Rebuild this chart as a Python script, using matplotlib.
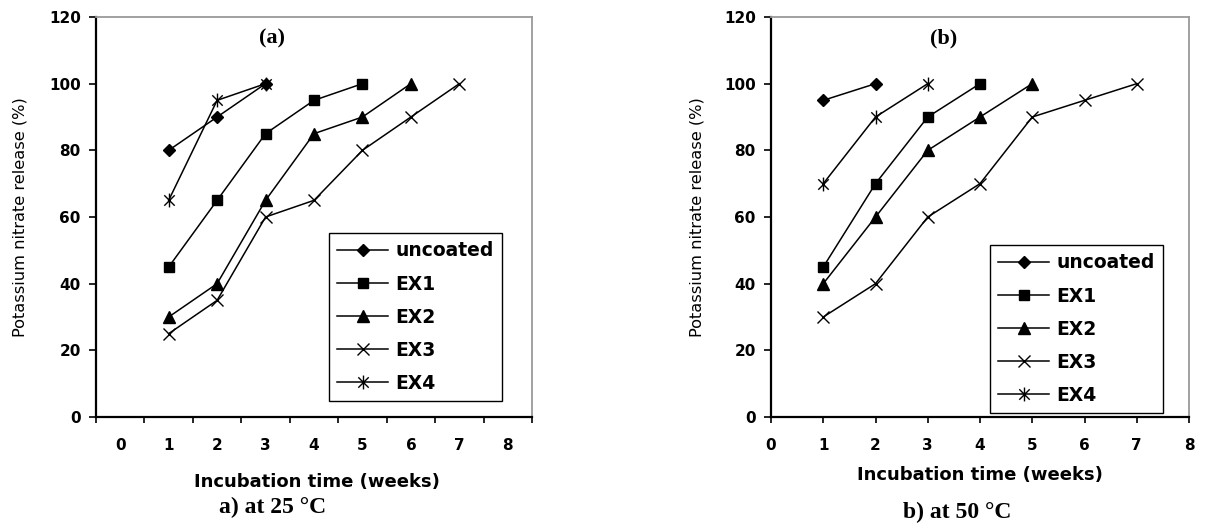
import matplotlib
matplotlib.use("Agg")
import matplotlib.pyplot as plt
from matplotlib.path import Path

# ---------------- data ----------------
series_names = ["uncoated", "EX1", "EX2", "EX3", "EX4"]

# panel (a) at 25 °C
weeks_a = {
    "uncoated": [1, 2, 3],
    "EX1": [1, 2, 3, 4, 5],
    "EX2": [1, 2, 3, 4, 5, 6],
    "EX3": [1, 2, 3, 4, 5, 6, 7],
    "EX4": [1, 2, 3],
}
uncoated_a = [80, 90, 100]
ex1_a = [45, 65, 85, 95, 100]
ex2_a = [30, 40, 65, 85, 90, 100]
ex3_a = [25, 35, 60, 65, 80, 90, 100]
ex4_a = [65, 95, 100]

# panel (b) at 50 °C
weeks_b = {
    "uncoated": [1, 2],
    "EX1": [1, 2, 3, 4],
    "EX2": [1, 2, 3, 4, 5],
    "EX3": [1, 2, 3, 4, 5, 6, 7],
    "EX4": [1, 2, 3],
}
uncoated_b = [95, 100]
ex1_b = [45, 70, 90, 100]
ex2_b = [40, 60, 80, 90, 100]
ex3_b = [30, 40, 60, 70, 90, 95, 100]
ex4_b = [70, 90, 100]

categories_a = [0, 1, 2, 3, 4, 5, 6, 7, 8]
xticks_b = [0, 1, 2, 3, 4, 5, 6, 7, 8]
yticks = [0, 20, 40, 60, 80, 100, 120]

values_a = dict(zip(series_names, [uncoated_a, ex1_a, ex2_a, ex3_a, ex4_a]))
values_b = dict(zip(series_names, [uncoated_b, ex1_b, ex2_b, ex3_b, ex4_b]))

# ---------------- styles ----------------
star = Path([(0, -1), (0, 1), (-0.75, -0.75), (0.75, 0.75), (-0.75, 0.75), (0.75, -0.75)],
            [Path.MOVETO, Path.LINETO, Path.MOVETO, Path.LINETO, Path.MOVETO, Path.LINETO])
marker_style = {
    "uncoated": dict(marker="D", markersize=6.5),
    "EX1": dict(marker="s", markersize=7.5),
    "EX2": dict(marker="^", markersize=8.5),
    "EX3": dict(marker="x", markersize=8, markeredgewidth=1.0),
    "EX4": dict(marker=star, markersize=10, markeredgewidth=1.0),
}

SANS = "DejaVu Sans"
SERIF = "Liberation Serif"
plt.rcParams["font.family"] = SANS

fig = plt.figure(figsize=(12.17, 5.29), dpi=100)
ax_a = fig.add_axes([96 / 1217, 1 - 417 / 529, 436 / 1217, 400 / 529])
ax_b = fig.add_axes([771 / 1217, 1 - 417 / 529, 418 / 1217, 400 / 529])


def style_axes(ax, label_x):
    for s in ["left", "bottom"]:
        ax.spines[s].set_color("black")
        ax.spines[s].set_linewidth(1.6)
    for s in ["top", "right"]:
        ax.spines[s].set_color("#9a9a9a")
        ax.spines[s].set_linewidth(1.3)
    ax.set_ylim(0, 120)
    ax.set_yticks(yticks)
    ax.tick_params(axis="y", direction="out", length=5, width=1.2, pad=6,
                   labelsize=11)
    for lbl in ax.get_yticklabels():
        lbl.set_fontweight("bold")
    ax.set_ylabel("Potassium nitrate release (%)", fontsize=11.7, fontfamily=SANS)
    ax.yaxis.set_label_coords(label_x, 0.5)


def draw(ax, weeks, values):
    handles = []
    for name in series_names:
        h, = ax.plot(weeks[name], values[name], color="black", lw=1.1,
                     markerfacecolor="black", markeredgecolor="black",
                     label=name, **marker_style[name])
        handles.append(h)
    return handles


# ---- panel (a): category-style x axis ----
h_a = draw(ax_a, weeks_a, values_a)
style_axes(ax_a, -0.156)
ax_a.set_xlim(-0.5, 8.5)
ax_a.set_xticks([c - 0.5 for c in categories_a] + [8.5])
ax_a.set_xticklabels([])
ax_a.set_xticks(categories_a, minor=True)
ax_a.set_xticklabels([str(c) for c in categories_a], minor=True,
                     fontweight="bold", fontsize=11)
ax_a.tick_params(axis="x", which="major", direction="out", length=4, width=1.2)
ax_a.tick_params(axis="x", which="minor", length=0, pad=15)

# ---- panel (b): numeric x axis ----
h_b = draw(ax_b, weeks_b, values_b)
style_axes(ax_b, -0.158)
ax_b.set_xlim(0, 8)
ax_b.set_xticks(xticks_b)
ax_b.set_xticklabels([str(t) for t in xticks_b], fontweight="bold", fontsize=11)
ax_b.tick_params(axis="x", direction="out", length=4, width=1.2, pad=11)

# ---- texts ----
ax_a.text(0.404, 0.9475, "(a)", transform=ax_a.transAxes, ha="center", va="center",
          fontfamily=SERIF, fontweight="bold", fontsize=16)
ax_b.text(0.414, 0.9475, "(b)", transform=ax_b.transAxes, ha="center", va="center",
          fontfamily=SERIF, fontweight="bold", fontsize=16)

ax_a.text(0.507, -0.1625, "Incubation time (weeks)",
          transform=ax_a.transAxes, ha="center", va="center",
          fontweight="bold", fontsize=13)
ax_b.text(0.50, -0.145, "Incubation time (weeks)",
          transform=ax_b.transAxes, ha="center", va="center",
          fontweight="bold", fontsize=13)

ax_a.text(0.404, -0.225, "a) at 25 °C", transform=ax_a.transAxes, ha="center",
          va="center", fontfamily=SERIF, fontweight="bold", fontsize=17)
ax_b.text(0.445, -0.2375, "b) at 50 °C", transform=ax_b.transAxes, ha="center",
          va="center", fontfamily=SERIF, fontweight="bold", fontsize=17)

# ---- legends ----
for ax, anchor in [(ax_a, (0.534, 0.46)), (ax_b, (0.524, 0.43))]:
    leg = ax.legend(loc="upper left", bbox_to_anchor=anchor, borderaxespad=0,
                    fancybox=False, framealpha=1, edgecolor="black",
                    handlelength=2.7, handletextpad=0.4, labelspacing=0.75,
                    borderpad=0.45, prop=dict(family=SANS, weight="bold", size=13.5))
    leg.get_frame().set_linewidth(1.0)

fig.savefig("out.png", dpi=100, facecolor="white")
